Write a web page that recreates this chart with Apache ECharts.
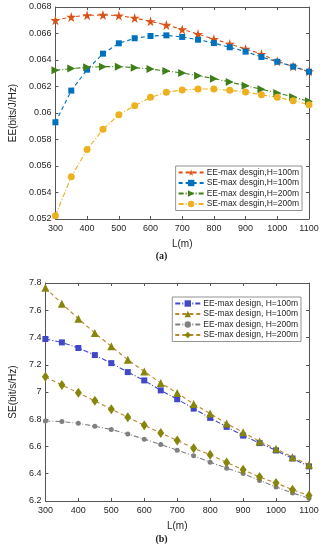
<!DOCTYPE html>
<html><head><meta charset="utf-8">
<script src="https://cdn.jsdelivr.net/npm/echarts@6/dist/echarts.min.js"></script>
<style>html,body{margin:0;padding:0;background:#fff;}#c{width:323px;height:550px;}</style>
</head><body><div id="c"></div>
<script>
const L = [300,350,400,450,500,550,600,650,700,750,800,850,900,950,1000,1050,1100];
// (a) energy efficiency
const eeMaxH100a = [0.0670,0.06725,0.06737,0.0674,0.06735,0.06717,0.06692,0.06664,0.06631,0.06596,0.06558,0.06521,0.06483,0.06445,0.0639,0.06352,0.06314];
const seMaxH100a = [0.0593,0.06169,0.06327,0.06448,0.06526,0.06564,0.06581,0.06586,0.06574,0.06553,0.06528,0.06496,0.06463,0.06423,0.06387,0.0635,0.06312];
const eeMaxH200a = [0.06322,0.06335,0.06345,0.0635,0.0635,0.06342,0.06332,0.06317,0.06302,0.06282,0.06259,0.06234,0.06206,0.06179,0.06151,0.06121,0.06088];
const seMaxH200a = [0.05225,0.05519,0.05724,0.05877,0.05987,0.06055,0.06118,0.06156,0.06174,0.06181,0.06181,0.06171,0.06159,0.06138,0.06118,0.06093,0.06063];
// (b) spectral efficiency
const eeMaxH100b = [7.389,7.364,7.323,7.271,7.212,7.146,7.085,7.012,6.947,6.878,6.81,6.744,6.68,6.625,6.571,6.512,6.454];
const seMaxH100b = [7.766,7.648,7.538,7.433,7.335,7.237,7.151,7.066,6.992,6.912,6.842,6.768,6.705,6.637,6.583,6.522,6.466];
const eeMaxH200b = [6.787,6.783,6.77,6.749,6.725,6.692,6.654,6.615,6.573,6.532,6.485,6.441,6.401,6.351,6.303,6.259,6.22];
const seMaxH200b = [7.112,7.051,6.994,6.935,6.873,6.815,6.756,6.699,6.644,6.588,6.539,6.483,6.429,6.376,6.332,6.283,6.24];
const namesA = ['EE-max desgin,H=100m','SE-max desgin,H=100m','EE-max desgin,H=200m','SE-max desgin,H=200m'];
const namesB = ['EE-max design, H=100m','SE-max design, H=100m','EE-max design, H=200m','SE-max design, H=200m'];
const yTicksA = {min:0.052,max:0.068,interval:0.002};
const yTicksB = {min:6.2,max:7.8,interval:0.2};

const pair = v => L.map((x,i)=>[x,v[i]]);
const STAR = 'path://M50,0 L61,35 L98,35 L68,57 L79,91 L50,70 L21,91 L32,57 L2,35 L39,35 Z';
const TRI_R = 'path://M0,0 L10,5 L0,10 Z';
const FONT = 'Liberation Sans';
const axisCol = '#555';
const lblCol = '#262626';

function xAx(gi, show){
  return {type:'value', gridIndex:gi, min:300, max:1100, interval:100,
    position: show ? 'bottom':'top',
    name: show ? 'L(m)' : '', nameLocation:'middle', nameGap: show?20:0,
    nameTextStyle:{fontFamily:FONT,fontSize:10,color:lblCol},
    axisLine:{show:true,onZero:false,lineStyle:{color:axisCol,width:1}},
    axisTick:{show:true,inside:true,length:3,lineStyle:{color:axisCol}},
    axisLabel:{show:show,fontFamily:FONT,fontSize:9,color:lblCol,margin:5,formatter:v=>String(v)},
    splitLine:{show:false}};
}
function yAx(gi, show, t, name, gap){
  return {type:'value', gridIndex:gi, min:t.min, max:t.max, interval:t.interval,
    position: show ? 'left':'right',
    name: show ? name : '', nameLocation:'middle', nameGap: gap,
    nameTextStyle:{fontFamily:FONT,fontSize:10,color:lblCol},
    axisLine:{show:true,onZero:false,lineStyle:{color:axisCol,width:1}},
    axisTick:{show:true,inside:true,length:3,lineStyle:{color:axisCol}},
    axisLabel:{show:show,fontFamily:FONT,fontSize:9,color:lblCol,margin:4},
    splitLine:{show:false}};
}
function ser(name, data, xi, yi, color, mcolor, symbol, size, dash){
  return {type:'line', name:name, data:pair(data), xAxisIndex:xi, yAxisIndex:yi,
    symbol:symbol, symbolSize:size, showSymbol:true,
    lineStyle:{color:color,width:1.1,type:dash},
    itemStyle:{color:mcolor, borderWidth:0},
    emphasis:{disabled:true}, animation:false};
}
const dashed=[4,3], dashdot=[5,2,1,2];
const legendBase = {orient:'vertical', itemGap:1.5, itemWidth:25, itemHeight:8,
     padding:[2,3,2,2], borderColor:'#777', borderWidth:0.8, backgroundColor:'#fff',
     textStyle:{fontFamily:FONT,fontSize:8.5,color:lblCol,padding:[0,0,0,-2]}};
const chart = echarts.init(document.getElementById('c'), null, {renderer:'canvas'});
chart.setOption({
  animation:false,
  grid:[{left:40,right:14,top:7,height:212},{left:32,right:14,top:283,height:218}],
  xAxis:[xAx(0,true),xAx(0,false),xAx(1,true),xAx(1,false)],
  yAxis:[yAx(0,true,yTicksA,'EE(bits/J/Hz)',30),yAx(0,false,yTicksA,'',0),
         yAx(1,true,yTicksB,'SE(bit/s/Hz)',22),yAx(1,false,yTicksB,'',0)],
  legend:[
    Object.assign({data:namesA, right:21, top:166}, legendBase),
    Object.assign({data:namesB, right:22, top:297}, legendBase)
  ],
  series:[
    ser(namesA[0],eeMaxH100a,0,0,'#D95319','#D95319',STAR,10,dashed),
    ser(namesA[1],seMaxH100a,0,0,'#0072BD','#0072BD','rect',6,dashed),
    ser(namesA[2],eeMaxH200a,0,0,'#3f7f1a','#3f7f1a',TRI_R,[8,8],dashdot),
    ser(namesA[3],seMaxH200a,0,0,'#EDB120','#EDB120','circle',7,dashdot),
    ser(namesB[0],eeMaxH100b,2,2,'#4048c8','#4048c8','rect',6,dashdot),
    ser(namesB[1],seMaxH100b,2,2,'#b8862e','#86860a','triangle',8,dashed),
    ser(namesB[2],eeMaxH200b,2,2,'#808080','#808080','circle',5,dashdot),
    ser(namesB[3],seMaxH200b,2,2,'#b8862e','#86860a','diamond',[7,10],dashed)
  ],
  graphic:[
    {type:'text',left:'center',top:251,style:{text:'(a)',font:'bold 10px "Liberation Serif"',fill:'#222'}},
    {type:'text',left:'center',top:534,style:{text:'(b)',font:'bold 10px "Liberation Serif"',fill:'#222'}}
  ]
});
</script></body></html>
